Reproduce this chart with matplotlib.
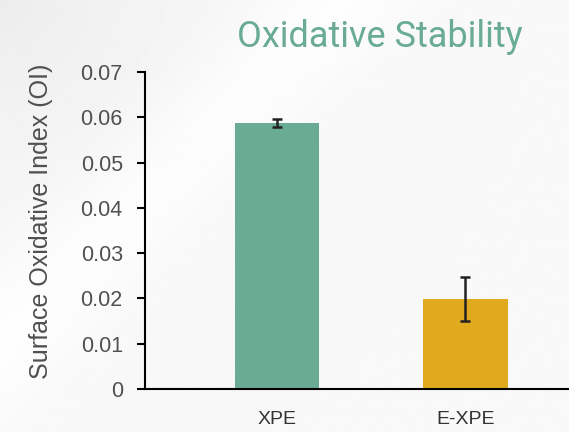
import numpy as np
import matplotlib.pyplot as plt

categories = ['XPE', 'E-XPE']
values = [0.0587, 0.0199]
errors = [0.0009, 0.0048]
colors = ['#6aab93', '#e0a91e']
yticks = [0, 0.01, 0.02, 0.03, 0.04, 0.05, 0.06, 0.07]
ytick_labels = ['0', '0.01', '0.02', '0.03', '0.04', '0.05', '0.06', '0.07']

plt.rcParams['font.family'] = ['Liberation Sans', 'DejaVu Sans']

fig = plt.figure(figsize=(5.69, 4.32), dpi=100)

# faint grey wash behind the chart, darker towards the top left
bg = fig.add_axes([0, 0, 1, 1], zorder=-1)
yy, xx = np.mgrid[0:1:200j, 0:1:260j]
shade = 0.975 - 0.05 * np.exp(-np.hypot(xx, yy * 0.8) / 0.3)
band = xx * 0.76 + yy * 0.57
shade = shade + 0.025 * np.exp(-((band - 0.45) / 0.12) ** 2)
shade = np.clip(shade, 0, 1)
bg.imshow(shade, cmap='gray', vmin=0, vmax=1, aspect='auto',
          extent=[0, 1, 0, 1], origin='upper')
bg.axis('off')

ax = fig.add_axes([145 / 569, 1 - 389 / 432, 1 - 145 / 569, (389 - 72) / 432])
ax.set_facecolor('none')

x = np.arange(len(categories))
ax.bar(x, values, width=0.45, color=colors, zorder=2)
ax.errorbar(x, values, yerr=errors, fmt='none', ecolor='#222222',
            elinewidth=1.8, capsize=3.5, capthick=1.8, zorder=3)

ax.set_xlim(-0.70, 1.55)
ax.set_ylim(0, 0.07)
ax.set_yticks(yticks)
ax.set_yticklabels(ytick_labels)
ax.set_xticks(x)
ax.set_xticklabels(categories)

ax.spines['top'].set_visible(False)
ax.spines['right'].set_visible(False)
ax.spines['left'].set_linewidth(1.5)
ax.spines['bottom'].set_linewidth(1.5)
ax.tick_params(axis='y', length=6, width=1.5, labelsize=15.5,
               labelcolor='#505050', pad=10)
ax.tick_params(axis='x', length=0, labelsize=14, labelcolor='#333333', pad=16)

fig.text(41 / 569, 1 - 221 / 432, 'Surface Oxidative Index (OI)', fontsize=18,
         color='#505050', rotation=90, ha='center', va='center')

fig.text(380 / 569, 1 - 47 / 432, 'Oxidative Stability', fontsize=26,
         color='#6aab93', ha='center', va='baseline', family='Roboto')

fig.savefig('out.png', dpi=100)
